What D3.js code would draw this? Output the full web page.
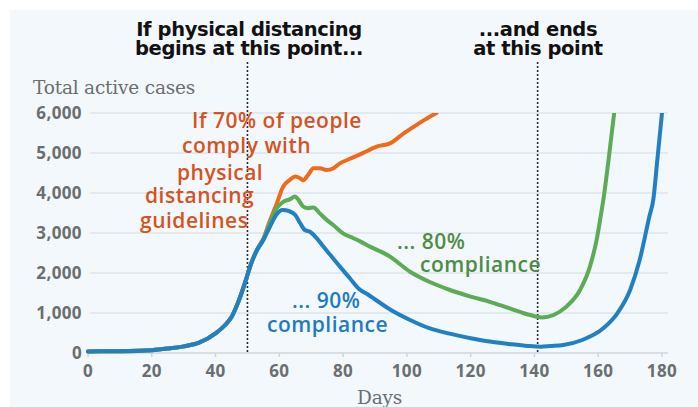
<!DOCTYPE html>
<html>
<head>
<meta charset="utf-8">
<script src="https://cdn.jsdelivr.net/npm/d3@7"></script>
<style>
  html, body { margin: 0; padding: 0; background: #fff; }
  svg { display: block; }
  .tick-label { font-family: "Open Sans", sans-serif; font-weight: 700; font-size: 17px; fill: #6a6e70; letter-spacing: 0.4px; }
  .axis-title { font-family: "DejaVu Serif", serif; font-size: 18.5px; fill: #6a6e70; letter-spacing: -0.2px; }
  .headline { font-family: "DejaVu Sans", sans-serif; font-weight: 700; font-size: 19.5px; fill: #111; letter-spacing: -0.4px; }
  .note { font-family: "Open Sans", sans-serif; font-weight: 600; font-size: 21px; letter-spacing: 0.5px; }
</style>
</head>
<body>
<div id="chart"></div>
<script>
// x ticks / y ticks
const xTicks = [0, 20, 40, 60, 80, 100, 120, 140, 160, 180];
const yTicks = [0, 1000, 2000, 3000, 4000, 5000, 6000];

// 90% compliance (blue) - also carries the shared early growth
const days90 = [0, 10, 20, 25, 30, 35, 40, 43, 45, 47, 49, 50, 51, 53, 55, 57, 59, 61, 63, 65, 66.5, 68, 69.6, 71.7, 73.8, 76, 79, 82, 85, 88, 95, 101, 107, 113, 120, 126, 132, 138, 142, 145, 149, 155, 161.6, 166, 170, 173, 176, 177.3, 178.5, 180];
const cases90 = [40, 45, 70, 110, 165, 265, 490, 700, 900, 1250, 1700, 1950, 2200, 2575, 2825, 3150, 3450, 3575, 3550, 3450, 3250, 3075, 3030, 2870, 2660, 2450, 2160, 1880, 1600, 1450, 1075, 825, 620, 490, 370, 285, 225, 175, 158, 175, 200, 325, 617, 990, 1575, 2325, 3400, 3850, 4800, 6000];

// 80% compliance (green), branches off around day 55
const days80 = [0, 10, 20, 25, 30, 35, 40, 43, 45, 47, 49, 50, 51, 53, 55, 57, 59.2, 61.2, 63.3, 64.9, 66, 67.5, 69.1, 70.7, 72.7, 74.8, 76.9, 80, 83.2, 85.3, 88.4, 94.7, 101, 107, 113.5, 120, 126, 132, 138.6, 142.3, 146, 150, 154.3, 157.4, 159.5, 161.1, 161.6, 163.5, 165];
const cases80 = [40, 45, 70, 110, 165, 265, 490, 700, 900, 1250, 1700, 1950, 2200, 2575, 2840, 3250, 3620, 3780, 3840, 3910, 3830, 3660, 3620, 3640, 3490, 3330, 3200, 2990, 2870, 2790, 2660, 2410, 2030, 1780, 1575, 1410, 1280, 1120, 950, 890, 950, 1160, 1575, 2160, 2830, 3575, 3825, 5000, 6000];

// 70% compliance (orange)
const days70 = [0, 10, 20, 25, 30, 35, 40, 43, 45, 47, 49, 50, 51, 53, 55, 57, 59.2, 61.2, 63.3, 65, 66.5, 67.5, 69, 70.7, 72.7, 74.8, 77, 79, 82, 86, 90.5, 94.7, 99, 103, 107, 109.3];
const cases70 = [40, 45, 70, 110, 165, 265, 490, 700, 900, 1250, 1700, 1950, 2200, 2575, 2860, 3300, 3740, 4160, 4330, 4410, 4370, 4320, 4450, 4620, 4620, 4575, 4620, 4740, 4850, 4990, 5160, 5240, 5490, 5700, 5900, 6000];

const distancingStart = 50;
const distancingEnd = 141;

const series = [
  { days: days70, cases: cases70, color: '#f06a1c' },
  { days: days80, cases: cases80, color: '#5cab55' },
  { days: days90, cases: cases90, color: '#2180c3' }
];

const width = 698, height = 407;
const svg = d3.select('#chart').append('svg')
  .attr('width', width)
  .attr('height', height);

// panel background
svg.append('rect')
  .attr('x', 10).attr('y', 10)
  .attr('width', width - 10).attr('height', height - 10)
  .attr('fill', '#f2f8fb');

const x = d3.scaleLinear().domain([0, 180]).range([88, 662]);
const y = d3.scaleLinear().domain([0, 6000]).range([353, 113]);

// grid lines
svg.append('g')
  .selectAll('line')
  .data(yTicks)
  .enter().append('line')
  .attr('x1', x(0) + 2)
  .attr('x2', x(180) + 6)
  .attr('y1', d => y(d))
  .attr('y2', d => y(d))
  .attr('stroke', d => d === 0 ? '#cfd6da' : '#dfe5e8')
  .attr('stroke-width', 1.5);

// x tick marks
svg.append('g')
  .selectAll('line')
  .data(xTicks)
  .enter().append('line')
  .attr('x1', d => x(d)).attr('x2', d => x(d))
  .attr('y1', y(0)).attr('y2', y(0) + 4)
  .attr('stroke', '#cfd6da')
  .attr('stroke-width', 1.5);

// y tick labels
svg.append('g')
  .selectAll('text')
  .data(yTicks)
  .enter().append('text')
  .attr('class', 'tick-label')
  .attr('x', 82)
  .attr('y', d => y(d) + 6)
  .attr('text-anchor', 'end')
  .text(d => d3.format(',')(d));

// x tick labels
svg.append('g')
  .selectAll('text')
  .data(xTicks)
  .enter().append('text')
  .attr('class', 'tick-label')
  .attr('x', d => x(d))
  .attr('y', 377)
  .attr('text-anchor', 'middle')
  .text(d => d);

svg.append('text')
  .attr('class', 'axis-title')
  .attr('x', 33).attr('y', 94)
  .text('Total active cases');

svg.append('text')
  .attr('class', 'axis-title')
  .attr('x', 357).attr('y', 404)
  .text('Days');

// dotted markers
[distancingStart, distancingEnd].forEach(d => {
  svg.append('line')
    .attr('x1', x(d)).attr('x2', x(d))
    .attr('y1', 62).attr('y2', y(0))
    .attr('stroke', '#2b2b2b')
    .attr('stroke-width', 1.6)
    .attr('stroke-dasharray', '2,2');
});

// curves
svg.append('clipPath').attr('id', 'plot-clip')
  .append('rect')
  .attr('x', x(0) - 4).attr('y', y(6000))
  .attr('width', x(180) - x(0) + 8).attr('height', y(0) - y(6000) + 4);

const line = d3.line()
  .x(d => x(d[0]))
  .y(d => y(d[1]))
  .curve(d3.curveMonotoneX);

const lines = svg.append('g').attr('clip-path', 'url(#plot-clip)');
series.forEach(s => {
  lines.append('path')
    .datum(s.days.map((d, i) => [d, s.cases[i]]))
    .attr('fill', 'none')
    .attr('stroke', s.color)
    .attr('stroke-width', 4)
    .attr('stroke-linejoin', 'round')
    .attr('stroke-linecap', 'round')
    .attr('d', line);
});

function addLines(lineData, cls, color, anchor) {
  lineData.forEach(l => {
    const t = svg.append('text')
      .attr('class', cls)
      .attr('x', l.x).attr('y', l.y)
      .attr('text-anchor', anchor)
      .text(l.text);
    if (color) t.attr('fill', color);
  });
}

// headlines
addLines([
  { text: 'If physical distancing', x: 249, y: 36 },
  { text: 'begins at this point...', x: 249, y: 55 },
  { text: '...and ends', x: 538, y: 36 },
  { text: 'at this point', x: 538, y: 55 }
], 'headline', null, 'middle');

addLines([
  { text: 'If 70% of people', x: 192, y: 128 },
  { text: 'comply with', x: 182, y: 153 },
  { text: 'physical', x: 177, y: 180 },
  { text: 'distancing', x: 145, y: 203 },
  { text: 'guidelines', x: 140, y: 228 }
], 'note', '#d5531f', 'start');

addLines([
  { text: '... 80%', x: 397, y: 249 },
  { text: 'compliance', x: 420, y: 272 }
], 'note', '#4d8c46', 'start');

addLines([
  { text: '... 90%', x: 292, y: 308 },
  { text: 'compliance', x: 267, y: 332 }
], 'note', '#1f7bbd', 'start');
</script>
</body>
</html>
